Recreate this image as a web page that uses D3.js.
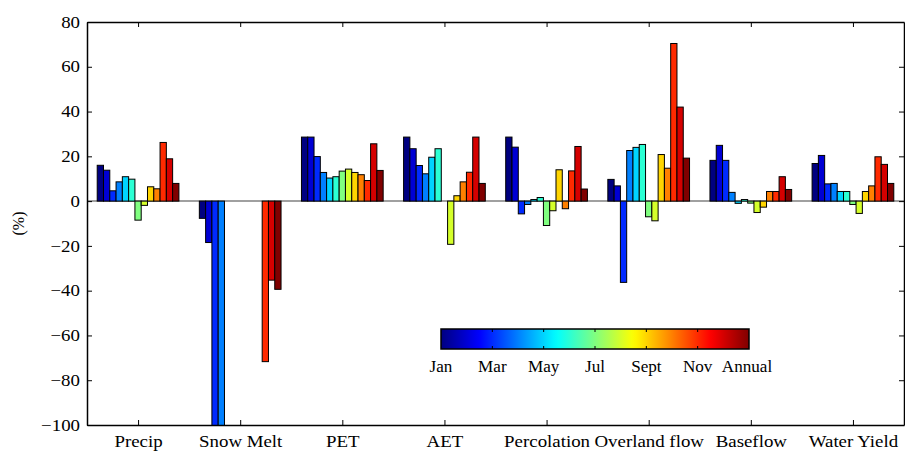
<!DOCTYPE html>
<html>
<head>
<meta charset="utf-8">
<script src="https://cdn.jsdelivr.net/npm/d3@7"></script>
<style>
    body { margin: 0; background: #fff; }
    svg text { font-family: "Liberation Serif", "DejaVu Serif", serif; }
</style>
</head>
<body>
<div id="graph"></div>
<script>
let categories = ["Precip", "Snow Melt", "PET", "AET", "Percolation", "Overland flow", "Baseflow", "Water Yield"];
let periods = ["Jan", "Feb", "Mar", "Apr", "May", "Jun", "Jul", "Aug", "Sept", "Oct", "Nov", "Dec", "Annual"];
let legendLabels = ["Jan", "Mar", "May", "Jul", "Sept", "Nov", "Annual"];
let yTicks = [80, 60, 40, 20, 0, -20, -40, -60, -80, -100];

// percent change per category, Jan..Dec then Annual
let precip = [16, 13.8, 4.6, 8.6, 10.9, 9.8, -8.5, -1.9, 6.4, 5.5, 26.2, 18.9, 7.9];
let snowMelt = [-7.7, -18.5, -110, -110, 0, 0, 0, 0, 0, 0, -71.7, -35.3, -39.4];
let pet = [28.6, 28.6, 19.9, 12.8, 10.3, 10.9, 13.4, 14.3, 12.8, 11.8, 9.2, 25.6, 13.7];
let aet = [28.6, 23.4, 15.9, 12.2, 19.6, 23.4, 0, -19.3, 2.4, 8.6, 12.9, 28.6, 7.9];
let percolation = [28.6, 24.1, -5.7, -1.5, 0.7, 1.6, -10.9, -4.3, 14.0, -3.4, 13.5, 24.4, 5.4];
let overland = [9.7, 6.8, -36.3, 22.6, 24.0, 25.3, -7.0, -8.8, 20.8, 14.7, 70.4, 42.0, 19.2];
let baseflow = [18.2, 24.9, 18.2, 3.9, -1.0, 0.7, -0.9, -5.1, -2.7, 4.3, 4.3, 10.9, 5.2];
let waterYield = [16.8, 20.4, 7.7, 7.9, 4.3, 4.3, -1.5, -5.5, 4.3, 6.8, 19.8, 16.4, 7.9];

let series = [precip, snowMelt, pet, aet, percolation, overland, baseflow, waterYield];

let svgWidth = 905;
let svgHeight = 451;
let plotLeft = 87, plotRight = 904, plotTop = 22, plotBottom = 425;

let xScale = d3.scaleLinear().domain([0.5, 8.5]).range([plotLeft, plotRight]);
let yScale = d3.scaleLinear().domain([-100, 80]).range([plotBottom, plotTop]);

let nBars = periods.length;
let groupWidth = 0.8;
let slot = groupWidth / nBars;

// MATLAB jet colormap
function jet(t) {
    let c = (v) => Math.max(0, Math.min(1, v));
    let r = c(1.5 - Math.abs(4 * t - 3));
    let g = c(1.5 - Math.abs(4 * t - 2));
    let b = c(1.5 - Math.abs(4 * t - 1));
    return d3.rgb(r * 255, g * 255, b * 255).formatHex();
}

// the reference text is a little wider than Times at its height
function stretch(sel, k) {
    sel.each(function () {
        let t = d3.select(this);
        let x = +t.attr("x") || 0;
        let y = +t.attr("y") || 0;
        t.attr("x", 0).attr("y", 0)
            .attr("transform", "translate(" + x + "," + y + ") scale(" + k + ",1)");
    });
}

let svg = d3.select("#graph")
    .append("svg")
    .attr("width", svgWidth)
    .attr("height", svgHeight);

let defs = svg.append("defs");
defs.append("clipPath")
    .attr("id", "plotClip")
    .append("rect")
    .attr("x", plotLeft)
    .attr("y", plotTop)
    .attr("width", plotRight - plotLeft)
    .attr("height", plotBottom - plotTop);

// baseline
svg.append("line")
    .attr("x1", plotLeft).attr("x2", plotRight)
    .attr("y1", yScale(0)).attr("y2", yScale(0))
    .attr("stroke", "#808080")
    .attr("stroke-width", 1.5);

let flat = [];
series.forEach((vals, ci) => {
    vals.forEach((v, i) => flat.push({ c: ci + 1, i: i, v: v }));
});

svg.append("g")
    .attr("clip-path", "url(#plotClip)")
    .selectAll("rect")
    .data(flat)
    .enter()
    .append("rect")
    .attr("x", (d) => xScale(d.c - groupWidth / 2 + d.i * slot))
    .attr("y", (d) => yScale(Math.max(0, d.v)))
    .attr("width", (d) => xScale(slot) - xScale(0))
    .attr("height", (d) => Math.abs(yScale(d.v) - yScale(0)))
    .attr("fill", (d) => jet(d.i / (nBars - 1)))
    .attr("stroke", "#000")
    .attr("stroke-width", 1);

// axes box
let yAxisL = d3.axisLeft(yScale).tickValues(yTicks).tickSizeInner(-5).tickSizeOuter(0)
    .tickPadding(7).tickFormat((d) => d < 0 ? "\u2212" + Math.abs(d) : d);
let yAxisR = d3.axisRight(yScale).tickValues(yTicks).tickSizeInner(-5).tickSizeOuter(0).tickFormat("");
let xTicks = d3.range(1, categories.length + 1);
let xAxisB = d3.axisBottom(xScale).tickValues(xTicks).tickSizeInner(-5).tickSizeOuter(0)
    .tickPadding(11).tickFormat((d) => categories[d - 1]);
let xAxisT = d3.axisTop(xScale).tickValues(xTicks).tickSizeInner(-5).tickSizeOuter(0).tickFormat("");

let axes = [
    [yAxisL, "translate(" + plotLeft + ",0)"],
    [yAxisR, "translate(" + plotRight + ",0)"],
    [xAxisB, "translate(0," + plotBottom + ")"],
    [xAxisT, "translate(0," + plotTop + ")"]
];
axes.forEach((a) => {
    let g = svg.append("g").attr("transform", a[1]).call(a[0]);
    g.selectAll("text").attr("font-family", "Liberation Serif, serif").attr("font-size", 16).attr("fill", "#000");
    g.select(".domain").attr("stroke", "#000").attr("stroke-width", 1.5);
    stretch(g.selectAll("text"), 1.18);
});

svg.append("text")
    .attr("transform", "translate(24," + yScale(-10) + ") rotate(-90)")
    .attr("text-anchor", "middle")
    .attr("font-family", "Liberation Sans, sans-serif")
    .attr("font-size", 16)
    .text("(%)");

// colorbar legend
let cbX0 = 441, cbX1 = 749, cbY = 329, cbH = 20;
let grad = defs.append("linearGradient").attr("id", "jetGrad");
d3.range(64).forEach((k) => {
    grad.append("stop")
        .attr("offset", (k / 63 * 100) + "%")
        .attr("stop-color", jet(k / 63));
});
svg.append("rect")
    .attr("x", cbX0).attr("y", cbY)
    .attr("width", cbX1 - cbX0).attr("height", cbH)
    .attr("fill", "url(#jetGrad)")
    .attr("stroke", "#000").attr("stroke-width", 1.5);

let cbScale = d3.scaleLinear().domain([0, legendLabels.length - 1]).range([cbX0, cbX1]);
let cbG = svg.append("g");
legendLabels.forEach((lab, k) => {
    if (k > 0 && k < legendLabels.length - 1) {
        cbG.append("line").attr("x1", cbScale(k)).attr("x2", cbScale(k))
            .attr("y1", cbY).attr("y2", cbY + 3).attr("stroke", "#000");
        cbG.append("line").attr("x1", cbScale(k)).attr("x2", cbScale(k))
            .attr("y1", cbY + cbH - 3).attr("y2", cbY + cbH).attr("stroke", "#000");
    }
    cbG.append("text")
        .attr("x", k === legendLabels.length - 1 ? cbScale(k) - 2 : cbScale(k))
        .attr("y", 372)
        .attr("text-anchor", "middle")
        .attr("font-size", 16)
        .text(lab);
});
stretch(cbG.selectAll("text"), 1.07);
</script>
</body>
</html>
